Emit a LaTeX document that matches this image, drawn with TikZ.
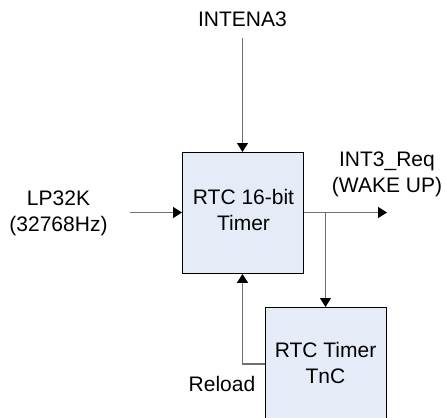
\documentclass[tikz,border=0pt]{standalone}
\usepackage{fontspec}
\setmainfont{Liberation Sans}
\usetikzlibrary{arrows.meta}
\definecolor{boxfill}{HTML}{E6ECF7}
\definecolor{wire}{HTML}{707070}
\begin{document}
\begin{tikzpicture}[x=1pt,y=-1pt,
  blk/.style={draw=black,line width=0.9pt,fill=boxfill,minimum width=121pt,anchor=north west,inner sep=0pt},
  lbl/.style={font=\fontsize{21}{26}\selectfont,align=center,inner sep=0pt},
  con/.style={draw=wire,line width=1.3pt},
  arr/.style={con,-{Triangle[length=9pt,width=11pt,fill=black,color=black]}}]
\useasboundingbox (0,0) rectangle (445,418);
\begin{scope}
\clip (0,0) rectangle (445,418);
\node[blk,minimum height=121pt] (rtc) at (182,152) {};
\node[blk,minimum height=120pt] (tnc) at (265,307) {};
\end{scope}
\node[lbl] (rtct) at (243.5,210.3) {RTC 16-bit\\Timer};
\node[lbl] (tnct) at (325.5,362.8) {RTC Timer\\TnC};
\node[lbl,anchor=base] (inten) at (242.5,26) {INTENA3};
\node[lbl] (lp) at (58.5,213.7) {LP32K\\(32768Hz)};
\node[lbl] (intreq) at (387,174.7) {INT3\_Req\\(WAKE UP)};
\node[lbl,anchor=base] (reload) at (222,391.7) {Reload};
\coordinate (intenend) at (242.5,38);
\coordinate (lpend) at (130,212.5);
\coordinate (outend) at (387,212.5);
\coordinate (br) at (325.5,212.5);
\coordinate (rl) at (242.5,364);
\draw[arr] (intenend) -- (rtc.north -| intenend);
\draw[arr] (lpend) -- (rtc.west |- lpend);
\draw[arr] (rtc.east |- outend) -- (outend);
\draw[arr] (br) -- (tnc.north -| br);
\draw[arr] (tnc.west |- rl) -- (rl) -- (rtc.south -| rl);
\end{tikzpicture}
\end{document}
